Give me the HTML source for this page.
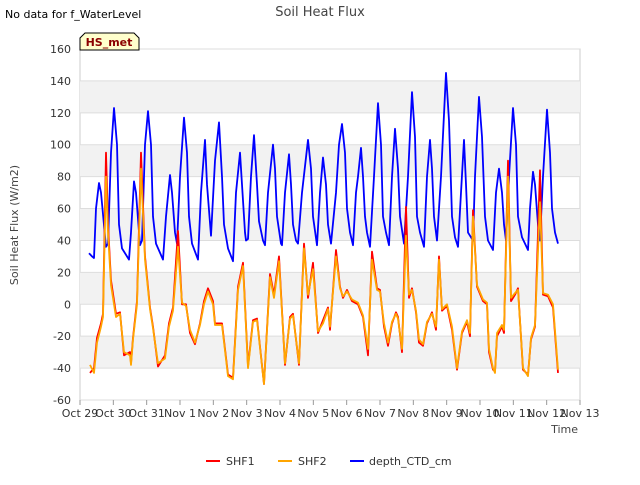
<!DOCTYPE html>
<html><head><meta charset="utf-8"><style>
body{margin:0;background:#fff;font-family:"Liberation Sans",sans-serif}
svg text{font-family:"DejaVu Sans","Liberation Sans",sans-serif}
</style></head><body>
<svg id="c" width="640" height="480" xmlns="http://www.w3.org/2000/svg">
<text x="5" y="18" font-size="11" fill="#000">No data for f_WaterLevel</text>
<text x="320" y="16" font-size="13" fill="#444" text-anchor="middle">Soil Heat Flux</text>
<g id="plot"></g>
<text transform="translate(18,225) rotate(-90)" font-size="11" fill="#444" text-anchor="middle">Soil Heat Flux (W/m2)</text>
<text x="578" y="433" font-size="11" fill="#444" text-anchor="end">Time</text>
<path d="M80,50 L80,38 L85,33 L134,33 L139,38 L139,50 Z" fill="#ffffcc" stroke="#000" stroke-width="1"/>
<text x="109" y="46" font-size="11" font-weight="bold" fill="#8b0000" text-anchor="middle">HS_met</text>
<g>
<line x1="206" y1="461" x2="220" y2="461" stroke="#ff0000" stroke-width="2"/>
<text x="226" y="465" font-size="11" fill="#333">SHF1</text>
<line x1="278" y1="461" x2="292" y2="461" stroke="#ffa500" stroke-width="2"/>
<text x="298" y="465" font-size="11" fill="#333">SHF2</text>
<line x1="350" y1="461" x2="364" y2="461" stroke="#0000ff" stroke-width="2"/>
<text x="369" y="465" font-size="11" fill="#333">depth_CTD_cm</text>
</g>
</svg>
<script>
const xTickLabels=["Oct 29","Oct 30","Oct 31","Nov 1","Nov 2","Nov 3","Nov 4","Nov 5","Nov 6","Nov 7","Nov 8","Nov 9","Nov 10","Nov 11","Nov 12","Nov 13"];
const yTicks=[-60,-40,-20,0,20,40,60,80,100,120,140,160];
const depthT=[0.27,0.36,0.42,0.48,0.57,0.63,0.78,0.84,0.93,1.02,1.11,1.17,1.26,1.47,1.53,1.62,1.68,1.80,1.86,1.95,2.04,2.13,2.19,2.28,2.49,2.58,2.70,2.76,2.85,2.91,3.00,3.12,3.21,3.27,3.36,3.54,3.63,3.75,3.81,3.93,4.05,4.17,4.26,4.32,4.44,4.59,4.68,4.80,4.86,4.95,4.98,5.04,5.13,5.22,5.31,5.37,5.49,5.55,5.64,5.79,5.85,5.91,6.03,6.06,6.15,6.27,6.33,6.39,6.48,6.54,6.66,6.84,6.93,6.99,7.11,7.20,7.29,7.38,7.44,7.53,7.68,7.77,7.86,7.95,8.01,8.10,8.19,8.28,8.34,8.43,8.49,8.55,8.61,8.70,8.82,8.94,9.03,9.09,9.18,9.27,9.36,9.45,9.54,9.60,9.72,9.84,9.96,10.05,10.11,10.20,10.32,10.41,10.50,10.56,10.62,10.71,10.83,10.98,11.07,11.16,11.25,11.34,11.43,11.52,11.58,11.64,11.73,11.79,11.85,11.97,12.06,12.15,12.24,12.39,12.48,12.57,12.66,12.72,12.78,12.87,12.99,13.08,13.14,13.26,13.44,13.50,13.59,13.65,13.74,13.80,13.89,14.01,14.10,14.16,14.25,14.34];
const depthV=[32,30,29,60,76,70,36,38,95,123,100,50,35,28,45,77,70,37,40,100,121,100,55,38,28,55,81,70,45,38,80,117,95,55,38,28,70,103,75,43,90,114,80,50,35,27,70,95,75,45,40,41,80,106,75,52,40,37,70,100,85,55,38,37,70,94,75,50,40,38,70,103,85,55,37,70,92,75,50,38,70,100,113,95,60,45,37,70,80,98,80,55,45,36,80,126,100,55,45,37,80,110,85,55,38,80,133,105,55,45,36,80,103,85,55,40,80,145,115,55,42,36,70,103,75,45,42,40,80,130,105,55,40,34,70,85,70,50,40,80,123,100,55,42,34,60,83,75,50,40,80,122,95,60,45,38];
const shfT=[0.30,0.42,0.51,0.63,0.69,0.78,0.84,0.93,1.08,1.20,1.32,1.50,1.53,1.59,1.71,1.83,1.95,2.10,2.19,2.34,2.55,2.67,2.79,2.94,3.06,3.18,3.30,3.45,3.60,3.72,3.84,3.99,4.05,4.26,4.44,4.59,4.74,4.89,5.04,5.19,5.31,5.52,5.70,5.82,5.97,6.15,6.30,6.39,6.57,6.72,6.84,6.99,7.14,7.29,7.44,7.50,7.68,7.80,7.89,8.01,8.16,8.34,8.49,8.64,8.76,8.91,9.00,9.12,9.24,9.36,9.48,9.54,9.66,9.78,9.87,9.96,10.08,10.17,10.29,10.41,10.56,10.68,10.77,10.86,11.01,11.16,11.31,11.46,11.61,11.70,11.79,11.91,12.09,12.21,12.27,12.39,12.45,12.51,12.66,12.72,12.84,12.93,13.05,13.14,13.29,13.44,13.53,13.65,13.80,13.89,14.04,14.19,14.34];
const shf1V=[-43,-40,-21,-12,-6,95,50,15,-6,-5,-32,-30,-37,-21,2,95,30,-2,-14,-39,-32,-12,-2,46,0,0,-18,-25,-12,2,10,2,-12,-12,-44,-46,11,26,-39,-10,-9,-50,19,6,30,-38,-8,-6,-38,38,4,26,-18,-10,-2,-16,34,11,4,9,2,0,-8,-32,33,10,9,-14,-26,-12,-5,-8,-30,61,4,10,-5,-24,-26,-12,-5,-16,30,-4,-1,-16,-41,-18,-11,-20,59,11,2,0,-30,-41,-42,-20,-14,-18,90,2,6,10,-41,-44,-22,-14,84,6,5,-2,-43];
const shf2V=[-38,-43,-24,-14,-8,80,45,12,-8,-6,-30,-32,-38,-22,0,85,28,-3,-15,-37,-34,-14,-4,36,1,-1,-16,-24,-13,0,8,0,-13,-13,-45,-47,9,24,-40,-11,-10,-50,17,4,27,-37,-9,-7,-37,35,6,22,-17,-12,-3,-14,30,10,5,8,3,1,-7,-28,28,9,8,-12,-24,-11,-6,-9,-28,43,6,9,-4,-22,-25,-11,-6,-14,28,-3,0,-14,-40,-17,-10,-18,55,12,3,1,-28,-40,-43,-18,-13,-16,80,4,7,9,-40,-45,-21,-13,64,7,6,0,-41];

const NS="http://www.w3.org/2000/svg";
const L=80,R=580,T=49,B=400,ymin=-60,ymax=160,tmax=15;
const X=t=>L+(R-L)*t/tmax;
const Y=v=>B-(B-T)*(v-ymin)/(ymax-ymin);
const g=document.getElementById('plot');
function mk(tag,attrs){const e=document.createElementNS(NS,tag);for(const k in attrs)e.setAttribute(k,attrs[k]);g.appendChild(e);return e;}
const bg=mk('rect',{x:L,y:T,width:R-L,height:B-T,fill:'#fff',stroke:'#ccc'});


for(let i=0;i<yTicks.length-1;i++){
  if(i%2===1){
    const b=mk('rect',{x:L,y:Y(yTicks[i+1]),width:R-L,height:Y(yTicks[i])-Y(yTicks[i+1]),fill:'#f2f2f2'});
    
    
  }
}
yTicks.forEach(v=>{
  const l=mk('line',{x1:L,x2:R,y1:Y(v),y2:Y(v),stroke:'#ddd','stroke-width':1});
  
  
  const t=mk('text',{x:L-9,y:Y(v)+4,'font-size':11,fill:'#333','text-anchor':'end'});
  t.textContent=v;
  
  
});
xTickLabels.forEach((s,i)=>{
  const tk=mk('line',{x1:X(i),x2:X(i),y1:B,y2:B+5,stroke:'#999'});
  
  
  const t=mk('text',{x:X(i),y:B+17,'font-size':11,fill:'#333','text-anchor':'middle'});
  t.textContent=s;
  
  
});
function line(ts,vs,color,name){
  const d=ts.map((t,i)=>(i?'L':'M')+X(t).toFixed(1)+','+Y(vs[i]).toFixed(1)).join('');
  const p=mk('path',{d:d,fill:'none',stroke:color,'stroke-width':1.8,'stroke-linejoin':'round'});
  
  
}
line(depthT,depthV,'#0000ff','depth-ctd-line');
line(shfT,shf1V,'#ff0000','shf1-line');
line(shfT,shf2V,'#ffa500','shf2-line');
</script>
</body></html>
